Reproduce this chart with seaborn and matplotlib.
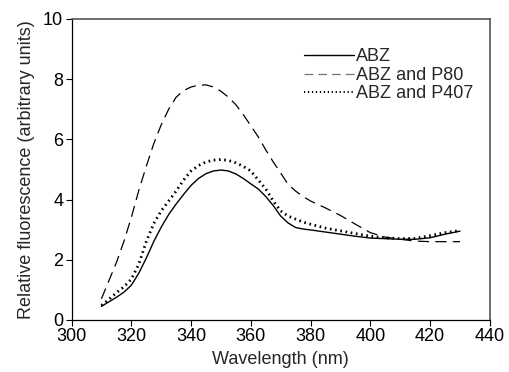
import pandas as pd
import matplotlib.pyplot as plt
import seaborn as sns

wavelength = [310, 312.5, 315, 317.5, 320, 322.5, 325, 327.5, 330, 332.5, 335, 337.5, 340,
              342.5, 345, 347.5, 350, 352.5, 355, 357.5, 360, 362.5, 365, 367.5, 370, 372.5,
              375, 377.5, 380, 385, 390, 395, 400, 405, 410, 415, 420, 425, 430]
abz = [0.45, 0.6, 0.75, 0.92, 1.15, 1.55, 2.05, 2.6, 3.08, 3.5, 3.85, 4.17, 4.47,
       4.7, 4.86, 4.95, 4.98, 4.95, 4.85, 4.7, 4.52, 4.35, 4.1, 3.8, 3.45, 3.22,
       3.07, 3.02, 2.99, 2.92, 2.85, 2.78, 2.72, 2.7, 2.68, 2.68, 2.73, 2.85, 2.95]
abz_p80 = [0.7, 1.3, 1.9, 2.6, 3.4, 4.3, 5.1, 5.85, 6.48, 7.0, 7.4, 7.62, 7.74,
           7.8, 7.81, 7.74, 7.6, 7.4, 7.15, 6.82, 6.45, 6.08, 5.65, 5.25, 4.88, 4.5,
           4.28, 4.1, 3.95, 3.72, 3.47, 3.18, 2.9, 2.75, 2.68, 2.62, 2.6, 2.6, 2.6]
abz_p407 = [0.48, 0.68, 0.9, 1.1, 1.35, 1.85, 2.6, 3.2, 3.62, 3.95, 4.28, 4.65, 4.95,
            5.13, 5.25, 5.31, 5.33, 5.3, 5.22, 5.1, 4.95, 4.65, 4.35, 3.95, 3.62, 3.45,
            3.35, 3.25, 3.18, 3.05, 2.96, 2.87, 2.78, 2.73, 2.7, 2.71, 2.8, 2.9, 2.97]

df = pd.DataFrame({'Wavelength': wavelength, 'ABZ': abz,
                   'ABZ and P80': abz_p80, 'ABZ and P407': abz_p407})

sns.set_style('ticks')
plt.rcParams['font.family'] = ['Liberation Sans', 'DejaVu Sans']

fig = plt.figure(figsize=(5.09, 3.72), dpi=100)
ax = fig.add_axes([0.1405, 0.14, 0.822, 0.809])

sns.lineplot(data=df, x='Wavelength', y='ABZ', ax=ax, color='black', lw=1.0, label='ABZ')
sns.lineplot(data=df, x='Wavelength', y='ABZ and P80', ax=ax, color='black', lw=0.9,
             linestyle=(0, (9, 5)), label='ABZ and P80')
sns.lineplot(data=df, x='Wavelength', y='ABZ and P407', ax=ax, color='black', lw=2.0,
             linestyle=(0, (0.6, 1.3)), label='ABZ and P407')

ax.set_xlim(300, 440)
ax.set_ylim(0, 10)
ax.set_xticks(range(300, 441, 20))
ax.set_yticks(range(0, 11, 2))
ax.tick_params(labelsize=13, direction='out', length=4, width=0.8, colors='black', pad=2)
ax.set_xlabel('Wavelength (nm)', fontsize=13, labelpad=4)
ax.set_ylabel('Relative fluorescence (arbitrary units)', fontsize=13, labelpad=6)
for s in ['top', 'right']:
    ax.spines[s].set_color('#555555')
    ax.spines[s].set_linewidth(1.2)
for s in ['left', 'bottom']:
    ax.spines[s].set_color('black')
    ax.spines[s].set_linewidth(0.9)

leg = ax.legend(loc='upper left', bbox_to_anchor=(0.555, 0.902), frameon=False, fontsize=13,
                handlelength=2.8, handletextpad=0.12, labelspacing=0.08, borderpad=0,
                borderaxespad=0)
handles = leg.get_lines()
handles[1].set_color('#777777')
handles[1].set_linestyle((0, (7, 4)))
handles[2].set_linewidth(1.5)

plt.savefig('out.png', dpi=100)
